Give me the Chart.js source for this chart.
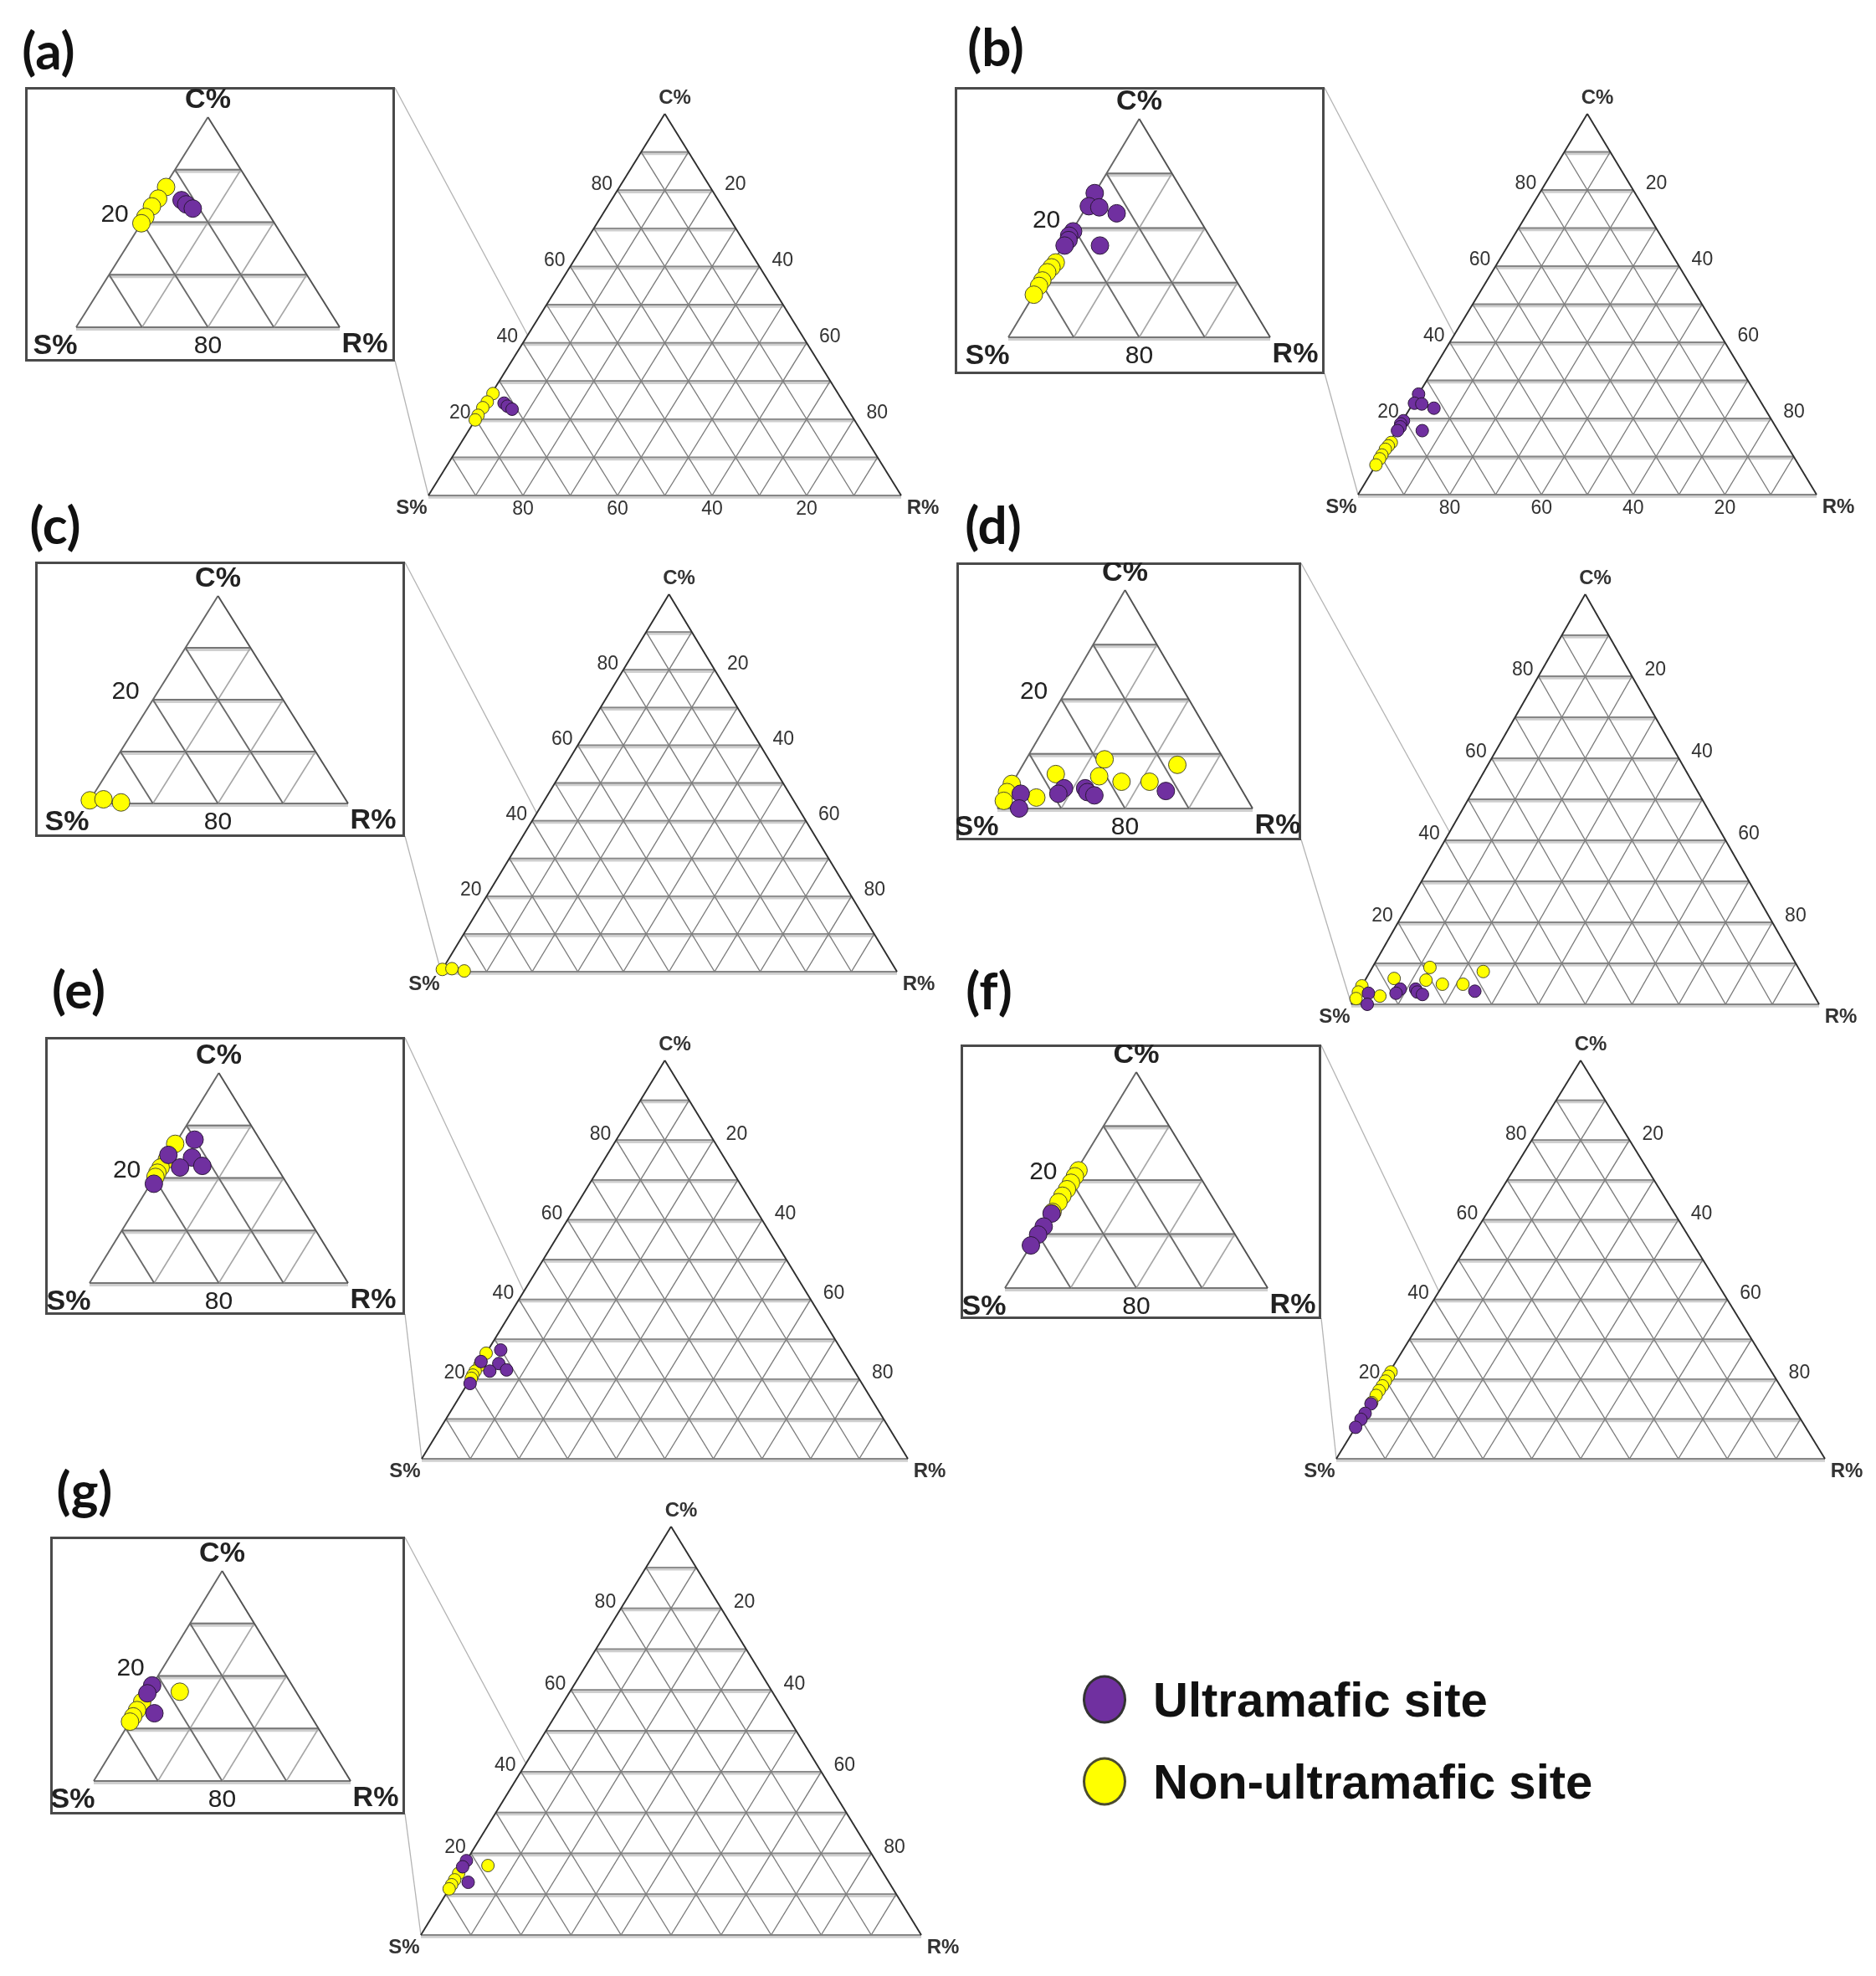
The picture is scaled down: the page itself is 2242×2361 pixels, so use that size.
<!DOCTYPE html>
<html>
<head>
<meta charset="utf-8">
<title>Ternary plots C% / S% / R%</title>
<script src="https://cdn.jsdelivr.net/npm/chart.js@4.4.1/dist/chart.umd.min.js"></script>
<style>
  html, body { margin: 0; padding: 0; background: #fff; }
  #page { position: relative; width: 2242px; height: 2361px; overflow: hidden; background: #fff; }
  #page canvas { position: absolute; }
  #links { position: absolute; left: 0; top: 0; }
  .tag { position: absolute; font: bold 62px Lato, "Liberation Sans", sans-serif; color: #111; transform: translate(-50%, -50%); line-height: 1; }
  .key { position: absolute; left: 1294px; display: flex; align-items: center; font: bold 58px "Liberation Sans", Arial, sans-serif; color: #111; transform: translateY(-50%); white-space: nowrap; }
  .dot { width: 52px; height: 58px; border-radius: 50%; border: 3px solid #333; box-sizing: border-box; margin-right: 32px; }
</style>
</head>
<body>
<div id="page">
  <svg id="links" width="2242" height="2361"></svg>
</div>
<script>
// tick labels
const tickVals = [20, 40, 60, 80];
const bottomVals = [80, 60, 40, 20];
const insetLeftTick = 20;
const insetBottomTick = 80;

// points as [S%, R%, C%]
const ultraA = [[71.9, 3.9, 24.2], [71.6, 5.0, 23.4], [71.0, 6.4, 22.6]];
const nonA = [[73.0, 0.3, 26.7], [75.3, 0.2, 24.5], [77.0, 0.0, 23.0], [79.0, 0.0, 21.0], [80.2, 0.0, 19.8]];

const ultraB = [[73.6, 0.0, 26.4], [75.7, 0.3, 24.0], [74.2, 2.0, 23.8], [72.1, 5.2, 22.7], [80.4, 0.2, 19.4],
                [81.4, 0.0, 18.6], [81.9, 0.3, 17.8], [83.0, 0.2, 16.8], [77.6, 5.6, 16.8]];
const nonB = [[85.9, 0.4, 13.7], [87.0, 0.2, 12.8], [88.1, 0.0, 11.9], [89.6, 0.0, 10.4], [90.6, 0.0, 9.4], [92.2, 0.0, 7.8]];

const ultraC = [];
const nonC = [[99.4, 0.0, 0.6], [97.2, 2.0, 0.8], [94.8, 5.0, 0.2]];

const ultraD = [[95.0, 2.3, 2.7], [96.6, 3.4, 0.0], [87.7, 8.6, 3.7], [89.1, 8.2, 2.7], [84.4, 11.9, 3.7],
                [84.4, 12.6, 3.0], [83.6, 14.0, 2.4], [72.0, 24.8, 3.2]];
const nonD = [[78.7, 12.3, 9.0], [67.8, 24.2, 8.0], [87.7, 6.0, 6.3], [81.1, 13.0, 5.9], [78.1, 17.0, 4.9],
              [73.7, 21.4, 4.9], [95.5, 0.0, 4.5], [97.0, 0.0, 3.0], [92.9, 5.1, 2.0], [98.3, 0.3, 1.4]];

const ultraE = [[70.1, 2.6, 27.3], [75.6, 0.0, 24.4], [72.2, 3.9, 23.9], [75.0, 3.0, 22.0], [71.4, 6.3, 22.3], [80.6, 0.5, 18.9]];
const nonE = [[73.5, 0.0, 26.5], [76.3, 0.2, 23.5], [78.0, 0.0, 22.0], [79.0, 0.0, 21.0], [79.7, 0.1, 20.2]];

const ultraF = [[86.0, 0.2, 13.8], [88.4, 0.2, 11.4], [90.0, 0.1, 9.9], [92.1, 0.0, 7.9]];
const nonF = [[77.9, 0.3, 21.8], [79.0, 0.3, 20.7], [80.2, 0.3, 19.5], [81.4, 0.3, 18.3], [82.7, 0.2, 17.1],
              [83.9, 0.2, 15.9], [85.7, 0.2, 14.1]];

const ultraG = [[81.8, 0.0, 18.2], [83.3, 0.0, 16.7], [84.1, 3.0, 12.9]];
const nonG = [[78.1, 4.9, 17.0], [84.9, 0.0, 15.1], [86.5, 0.0, 13.5], [87.7, 0.0, 12.3], [88.7, 0.0, 11.3]];

const PURPLE = '#7030a0';
const YELLOW = '#ffff00';

// page layout: main = [S corner x, base y, width, height], box = [x1, y1, x2, y2], tri = inset triangle
const panels = [
  { tag: '(a)', tagAt: [58, 59], ultra: ultraA, non: nonA, main: [512, 592, 565, 456], box: [30, 104, 472, 432], tri: [91, 391, 315, 251], bottomTicks: true },
  { tag: '(b)', tagAt: [1190, 55], ultra: ultraB, non: nonB, main: [1623, 591, 548, 455], box: [1141, 104, 1583, 447], tri: [1205, 403, 313, 261], bottomTicks: true },
  { tag: '(c)', tagAt: [66, 626], ultra: ultraC, non: nonC, main: [527, 1161, 545, 451], box: [42, 671, 484, 1000], tri: [105, 960, 311, 248] },
  { tag: '(d)', tagAt: [1187, 626], ultra: ultraD, non: nonD, main: [1615, 1200, 559, 490], box: [1143, 672, 1555, 1004], tri: [1192, 966, 305, 261] },
  { tag: '(e)', tagAt: [94, 1181], ultra: ultraE, non: nonE, main: [504, 1743, 581, 476], box: [54, 1239, 484, 1571], tri: [107, 1533, 309, 251] },
  { tag: '(f)', tagAt: [1182, 1182], ultra: ultraF, non: nonF, main: [1597, 1743, 584, 476], box: [1148, 1248, 1579, 1576], tri: [1201, 1539, 314, 258] },
  { tag: '(g)', tagAt: [101, 1779], ultra: ultraG, non: nonG, main: [503, 2312, 598, 488], box: [60, 1836, 484, 2168], tri: [112, 2128, 307, 251] }
];

// ternary -> cartesian: x = R + C/2, y = C (S corner at origin)
function ternaryPoint(p) {
  return { x: p[1] + p[2] / 2, y: p[2] };
}

const ternaryGrid = {
  id: 'ternaryGrid',
  beforeDraw(chart, args, o) {
    if (o.mode !== 'inset') return;
    const ctx = chart.ctx;
    ctx.save();
    ctx.strokeStyle = '#4a4a4a';
    ctx.lineWidth = 3;
    ctx.strokeRect(1.5, 1.5, chart.width - 3, chart.height - 3);
    ctx.restore();
  },
  beforeDatasetsDraw(chart, args, o) {
    const ctx = chart.ctx, xs = chart.scales.x, ys = chart.scales.y, T = o.span;
    const inset = o.mode === 'inset';
    const P = (r, c) => [xs.getPixelForValue(r + c / 2), ys.getPixelForValue(c)];
    const seg = (a, b, color, w, dy) => {
      ctx.beginPath();
      ctx.moveTo(a[0], a[1] + dy);
      ctx.lineTo(b[0], b[1] + dy);
      ctx.strokeStyle = color;
      ctx.lineWidth = w;
      ctx.stroke();
    };
    ctx.save();
    // constant C (horizontal), drawn with a pale band
    for (let c = 0; c < T; c += 10) {
      const a = P(0, c), b = P(T - c, c);
      seg(a, b, '#cfcfcf', inset ? 5 : 4.5, 1.5);
      seg(a, b, inset ? '#767676' : '#868686', inset ? 2.2 : 1.8, 0);
    }
    // constant R
    for (let r = 10; r < T; r += 10) seg(P(r, 0), P(r, T - r), inset ? '#a6a6a6' : '#7c7c7c', inset ? 1.6 : 1.4, 0);
    // constant S
    for (let m = 10; m < T; m += 10) seg(P(m, 0), P(0, m), inset ? '#6a6a6a' : '#7c7c7c', inset ? 1.9 : 1.4, 0);
    // outer edges
    seg(P(0, 0), P(0, T), inset ? '#666' : '#2e2e2e', inset ? 1.9 : 1.9, 0);
    seg(P(T, 0), P(0, T), inset ? '#505050' : '#2e2e2e', inset ? 1.9 : 1.9, 0);
    ctx.restore();
  },
  afterDraw(chart, args, o) {
    const ctx = chart.ctx, xs = chart.scales.x, ys = chart.scales.y, T = o.span;
    const P = (r, c) => [xs.getPixelForValue(r + c / 2), ys.getPixelForValue(c)];
    const txt = (s, x, y, font, align, color) => {
      ctx.font = font;
      ctx.textAlign = align;
      ctx.fillStyle = color;
      ctx.fillText(s, x, y);
    };
    ctx.save();
    ctx.textBaseline = 'middle';
    let p;
    if (o.mode === 'main') {
      const f = '23px "Liberation Sans", Arial, sans-serif';
      const fb = 'bold 24px "Liberation Sans", Arial, sans-serif';
      p = P(0, T); txt('C%', p[0] + 12, p[1] - 19, fb, 'center', '#333');
      tickVals.forEach(v => {
        p = P(0, v); txt(String(v), p[0] - 6, p[1] - 7, f, 'right', '#333');
        p = P(v, T - v); txt(String(v), p[0] + 15, p[1] - 7, f, 'left', '#333');
      });
      if (o.bottomTicks) {
        bottomVals.forEach(v => { p = P(T - v, 0); txt(String(v), p[0], p[1] + 17, f, 'center', '#333'); });
      }
      p = P(0, 0); txt('S%', p[0] - 20, p[1] + 15, fb, 'center', '#333');
      p = P(T, 0); txt('R%', p[0] + 26, p[1] + 15, fb, 'center', '#333');
    } else {
      const f = '30px "Liberation Sans", Arial, sans-serif';
      const fb = 'bold 34px "Liberation Sans", Arial, sans-serif';
      p = P(0, T); txt('C%', p[0], p[1] - 20, fb, 'center', '#222');
      p = P(0, insetLeftTick); txt(String(insetLeftTick), p[0] - 16, p[1] - 9, f, 'right', '#222');
      p = P(0, 0); txt('S%', p[0] - 25, p[1] + 23, fb, 'center', '#222');
      p = P(100 - insetBottomTick, 0); txt(String(insetBottomTick), p[0], p[1] + 23, f, 'center', '#222');
      p = P(T, 0); txt('R%', p[0] + 30, p[1] + 21, fb, 'center', '#222');
    }
    ctx.restore();
  }
};

const page = document.getElementById('page');
const links = document.getElementById('links');

function makeChart(left, top, width, height, padding, span, panel, mode, radius) {
  const canvas = document.createElement('canvas');
  canvas.width = width;
  canvas.height = height;
  canvas.style.left = left + 'px';
  canvas.style.top = top + 'px';
  canvas.style.width = width + 'px';
  canvas.style.height = height + 'px';
  page.appendChild(canvas);
  return new Chart(canvas, {
    type: 'scatter',
    data: {
      datasets: [
        { label: 'Ultramafic site', data: panel.ultra.map(ternaryPoint), backgroundColor: PURPLE,
          borderColor: '#2b1838', borderWidth: 1, pointRadius: radius, clip: false },
        { label: 'Non-ultramafic site', data: panel.non.map(ternaryPoint), backgroundColor: YELLOW,
          borderColor: '#4b4b30', borderWidth: 1, pointRadius: radius, clip: false }
      ]
    },
    options: {
      responsive: false,
      animation: false,
      events: [],
      layout: { padding: padding },
      scales: {
        x: { type: 'linear', min: 0, max: span, display: false },
        y: { type: 'linear', min: 0, max: span, display: false }
      },
      plugins: {
        legend: { display: false },
        tooltip: { enabled: false },
        ternaryGrid: { span: span, mode: mode, bottomTicks: !!panel.bottomTicks }
      }
    },
    plugins: [ternaryGrid]
  });
}

function line(x1, y1, x2, y2) {
  const l = document.createElementNS('http://www.w3.org/2000/svg', 'line');
  l.setAttribute('x1', x1); l.setAttribute('y1', y1);
  l.setAttribute('x2', x2); l.setAttribute('y2', y2);
  l.setAttribute('stroke', '#b4b4b4');
  l.setAttribute('stroke-width', '1.3');
  links.appendChild(l);
}

panels.forEach(panel => {
  const [sx, base, w, h] = panel.main;
  const pad = { left: 70, right: 75, top: 50, bottom: 45 };
  const mLeft = sx - pad.left, mTop = base - h - pad.top;
  const main = makeChart(mLeft, mTop, w + pad.left + pad.right, h + pad.top + pad.bottom, pad, 100, panel, 'main', 7.5);

  const [x1, y1, x2, y2] = panel.box;
  const [tx, tb, tw, th] = panel.tri;
  const ipad = { left: tx - x1, right: x2 - (tx + tw), top: (tb - th) - y1, bottom: y2 - tb };
  makeChart(x1, y1, x2 - x1, y2 - y1, ipad, 40, panel, 'inset', 10.5);

  // zoom guide lines from the inset box to the S corner region of the main triangle
  const xs = main.scales.x, ys = main.scales.y;
  line(x2, y1 + 1, mLeft + xs.getPixelForValue(21), mTop + ys.getPixelForValue(42));
  line(x2, y2 - 1, mLeft + xs.getPixelForValue(0), mTop + ys.getPixelForValue(0));

  const tag = document.createElement('div');
  tag.className = 'tag';
  tag.textContent = panel.tag;
  tag.style.left = panel.tagAt[0] + 'px';
  tag.style.top = panel.tagAt[1] + 'px';
  page.appendChild(tag);
});

// legend
[['Ultramafic site', PURPLE, 2030], ['Non-ultramafic site', YELLOW, 2128]].forEach(([name, color, y]) => {
  const row = document.createElement('div');
  row.className = 'key';
  row.style.top = y + 'px';
  const dot = document.createElement('div');
  dot.className = 'dot';
  dot.style.background = color;
  if (color === YELLOW) dot.style.borderColor = '#4b4b30';
  row.appendChild(dot);
  row.appendChild(document.createTextNode(name));
  page.appendChild(row);
});
</script>
</body>
</html>
